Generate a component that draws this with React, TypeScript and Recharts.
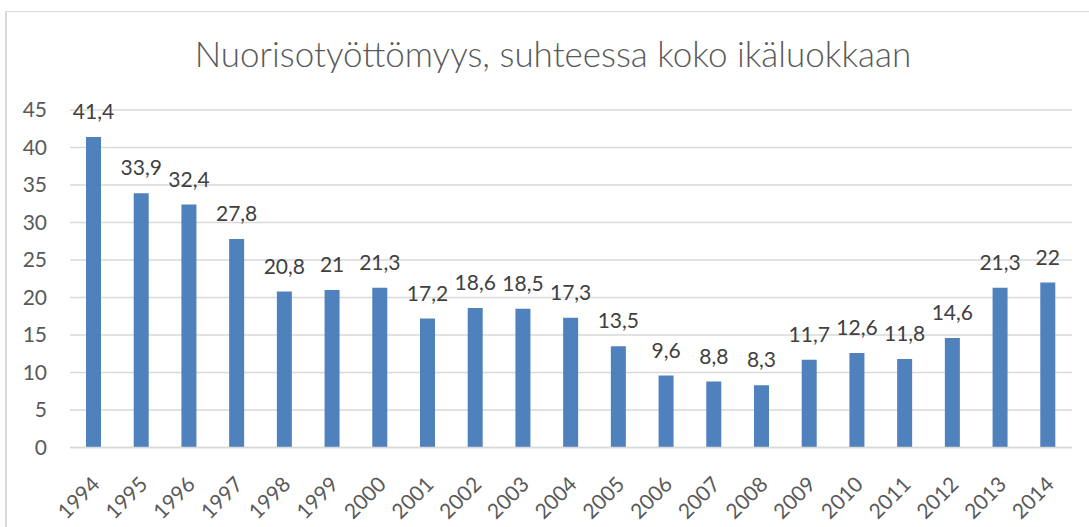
import { BarChart, Bar, XAxis, YAxis, CartesianGrid, LabelList } from 'recharts'

const years = ['1994', '1995', '1996', '1997', '1998', '1999', '2000', '2001', '2002', '2003', '2004', '2005', '2006', '2007', '2008', '2009', '2010', '2011', '2012', '2013', '2014']
const values = [41.4, 33.9, 32.4, 27.8, 20.8, 21, 21.3, 17.2, 18.6, 18.5, 17.3, 13.5, 9.6, 8.8, 8.3, 11.7, 12.6, 11.8, 14.6, 21.3, 22]
const yTicks = [0, 5, 10, 15, 20, 25, 30, 35, 40, 45]

const data = years.map((year, i) => ({ year, value: values[i] }))

const font = 'Lato, "Open Sans", sans-serif'
const fmt = (v: number) => String(v).replace('.', ',')

function YearTick(props: any) {
  const { x, y, payload } = props
  return (
    <g transform={`translate(${x + 2},${y}) rotate(-45)`}>
      <text x={0} y={0} dy="0.35em" textAnchor="end" fill="#595959" fontSize={21} fontFamily={font}>
        {payload.value}
      </text>
    </g>
  )
}

function ValueLabel(props: any) {
  const { x, y, width, value } = props
  return (
    <text x={x + width / 2} y={y - 18} textAnchor="middle" fill="#404040" fontSize={21} fontFamily={font}>
      {fmt(value)}
    </text>
  )
}

export default function App() {
  return (
    <div style={{ position: 'absolute', left: 0, top: 0, width: 1089, height: 527, overflow: 'hidden', background: '#fff' }}>
      <div style={{ position: 'absolute', left: 5, top: 11, width: 1200, height: 700, borderLeft: '2px solid #d9d9d9', borderTop: '1px solid #d9d9d9' }} />
      <div style={{ position: 'absolute', left: 0, top: 0, width: 1106, textAlign: 'center', fontFamily: font, fontWeight: 300, fontSize: 35, color: '#595959', lineHeight: '35px', paddingTop: 36, whiteSpace: 'nowrap' }}>
        Nuorisotyöttömyys, suhteessa koko ikäluokkaan
      </div>
      <div style={{ position: 'absolute', left: 0, top: 0 }}>
        <BarChart width={1089} height={527} data={data} margin={{ top: 110, right: 17, bottom: 0, left: 0 }}>
          <CartesianGrid vertical={false} stroke="#d9d9d9" strokeWidth={1.5} />
          <XAxis
            dataKey="year"
            axisLine={{ stroke: '#d9d9d9', strokeWidth: 1.5 }}
            tickLine={false}
            tickSize={0}
            tickMargin={33}
            interval={0}
            height={79.5}
            tick={<YearTick />}
          />
          <YAxis
            domain={[0, 45]}
            ticks={yTicks}
            width={70}
            axisLine={false}
            tickLine={false}
            tickSize={0}
            tickMargin={23}
            tick={{ fill: '#595959', fontSize: 21, fontFamily: font }}
          />
          <Bar dataKey="value" fill="#4f81bd" barSize={15} isAnimationActive={false}>
            <LabelList dataKey="value" content={<ValueLabel />} />
          </Bar>
        </BarChart>
      </div>
    </div>
  )
}
